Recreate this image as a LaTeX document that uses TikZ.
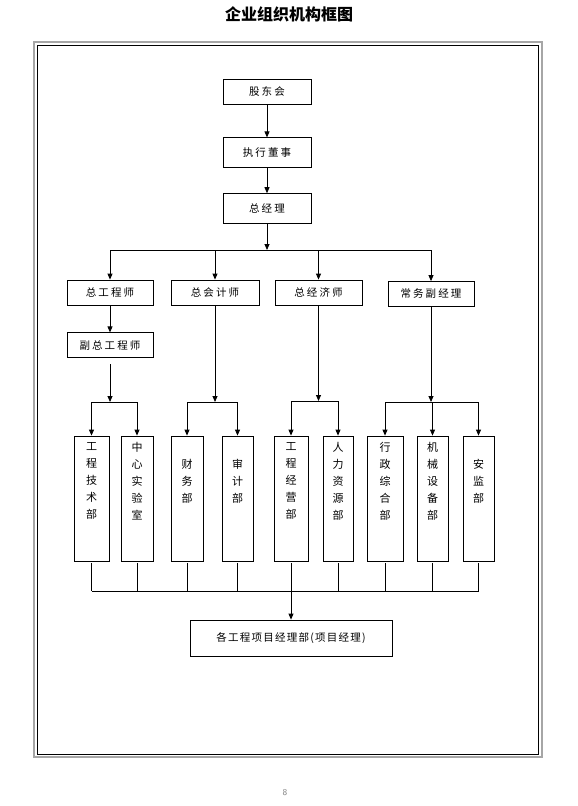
\documentclass[tikz,border=0pt]{standalone}
\usepackage{fontspec}
\newfontfamily\cjk[LetterSpace=20]{Noto Sans CJK SC}
\newfontfamily\cjkmid[LetterSpace=12]{Noto Sans CJK SC}
\newfontfamily\cjkplain{Noto Sans CJK SC}
\usetikzlibrary{positioning, arrows.meta}

\begin{document}
\begin{tikzpicture}[x=1pt, y=-1pt, node distance=25pt,
    box/.style={draw, line width=0.8pt, minimum width=88pt, minimum height=25pt, inner sep=0pt, font=\cjk\fontsize{10.5}{12}\selectfont},
    dept/.style={draw, line width=0.8pt, minimum width=32pt, minimum height=125pt, inner sep=0pt},
    vtext/.style={align=center, inner sep=0pt, font=\cjkplain\fontsize{11}{17}\selectfont},
    link/.style={line width=0.8pt},
    arr/.style={line width=0.8pt, -{Triangle[length=6pt, width=5pt]}}]
  \useasboundingbox (0,0) rectangle (578,806);

  % title, page frame, page number
  \node[font=\cjkplain\bfseries\fontsize{16}{18}\selectfont] (title) at (289,14) {企业组织机构框图};
  \draw[gray!70, line width=1.6pt] (34,42) rectangle (542,757);
  \draw[line width=0.8pt] (37.5,45) rectangle (538.5,754);
  \node[font=\sffamily\fontsize{9}{10}\selectfont, text=gray] (pnum) at (285,793) {8};

  % top of the chart
  \node[box] (gdh) at (267,91.5) {股东会};
  \node[box, minimum height=30pt, below=33pt of gdh] (zxds) {执行董事};
  \node[box, minimum height=30pt, below=25pt of zxds] (zjl) {总经理};
  \draw[arr] (gdh) -- (zxds);
  \draw[arr] (zxds) -- (zjl);

  % second level
  \node[box, minimum width=86pt] (zgc) at (110,292.5) {总工程师};
  \node[box] (zkj) at (215,292.5) {总会计师};
  \node[box, minimum width=87pt] (zjj) at (318.5,292.5) {总经济师};
  \node[box, minimum width=86pt] (cwf) at (431,294) {常务副经理};
  \node[box, minimum width=86pt, below=27pt of zgc] (fzg) {副总工程师};

  \coordinate (top) at (267,250);
  \draw[arr] (zjl) -- (top);
  \draw[link] (zgc.north |- top) -- (cwf.north |- top);
  \foreach \n in {zgc, zkj, zjj, cwf}
    \draw[arr] (\n.north |- top) -- (\n.north);
  \draw[arr] (zgc) -- (fzg);

  % departments
  \node[dept, minimum width=35pt] (d1) at (91.5,498.5) {};
  \node[dept] (d2) at (137,498.5) {};
  \node[dept] (d3) at (187,498.5) {};
  \node[dept, minimum width=31pt] (d4) at (237.5,498.5) {};
  \node[dept, minimum width=34pt] (d5) at (291,498.5) {};
  \node[dept, minimum width=30pt] (d6) at (338,498.5) {};
  \node[dept, minimum width=36pt] (d7) at (385,498.5) {};
  \node[dept, minimum width=31pt] (d8) at (432.5,498.5) {};
  \node[dept, minimum width=31pt] (d9) at (478.5,498.5) {};

  \node[vtext] (t1) at ([yshift=17.5pt]d1.center) {工\\程\\技\\术\\部};
  \node[vtext] (t2) at ([yshift=17.5pt]d2.center) {中\\心\\实\\验\\室};
  \node[vtext] (t3) at ([yshift=17.5pt]d3.center) {财\\务\\部};
  \node[vtext] (t4) at ([yshift=17.5pt]d4.center) {审\\计\\部};
  \node[vtext] (t5) at ([yshift=17.5pt]d5.center) {工\\程\\经\\营\\部};
  \node[vtext] (t6) at ([yshift=17.5pt]d6.center) {人\\力\\资\\源\\部};
  \node[vtext] (t7) at ([yshift=17.5pt]d7.center) {行\\政\\综\\合\\部};
  \node[vtext] (t8) at ([yshift=17.5pt]d8.center) {机\\械\\设\\备\\部};
  \node[vtext] (t9) at ([yshift=17.5pt]d9.center) {安\\监\\部};

  % branches down to the departments
  \coordinate (bus1) at (110,402);
  \coordinate (bus2) at (213,402);
  \coordinate (bus3) at (317,401);
  \coordinate (bus4) at (433,402);
  \draw[arr] ([yshift=-6pt]fzg.south) -- (fzg.south |- bus1);
  \draw[arr] (zkj.south) -- (zkj.south |- bus2);
  \draw[arr] (zjj.south) -- (zjj.south |- bus3);
  \draw[arr] (cwf.south) -- (cwf.south |- bus4);
  \draw[link] (d1.north |- bus1) -- (d2.north |- bus1);
  \draw[link] (d3.north |- bus2) -- (d4.north |- bus2);
  \draw[link] (d5.north |- bus3) -- (d6.north |- bus3);
  \draw[link] (d7.north |- bus4) -- (d9.north |- bus4);
  \foreach \d/\b in {d1/bus1, d2/bus1, d3/bus2, d4/bus2, d5/bus3, d6/bus3, d7/bus4, d8/bus4, d9/bus4}
    \draw[arr] (\d.north |- \b) -- (\d.north);

  % project departments
  \node[box, font=\cjkmid\fontsize{10.5}{12}\selectfont, minimum width=202pt, minimum height=36pt] (xmb) at (291,638) {各工程项目经理部(项目经理)};
  \coordinate (bot) at (291,591);
  \foreach \d in {d1, d2, d3, d4, d5, d6, d7, d8, d9}
    \draw[link] ([yshift=-1.5pt]\d.south) -- (\d.south |- bot);
  \draw[link] (d1.south |- bot) -- (d9.south |- bot);
  \draw[arr] (xmb.north |- bot) -- (xmb.north);
\end{tikzpicture}
\end{document}
